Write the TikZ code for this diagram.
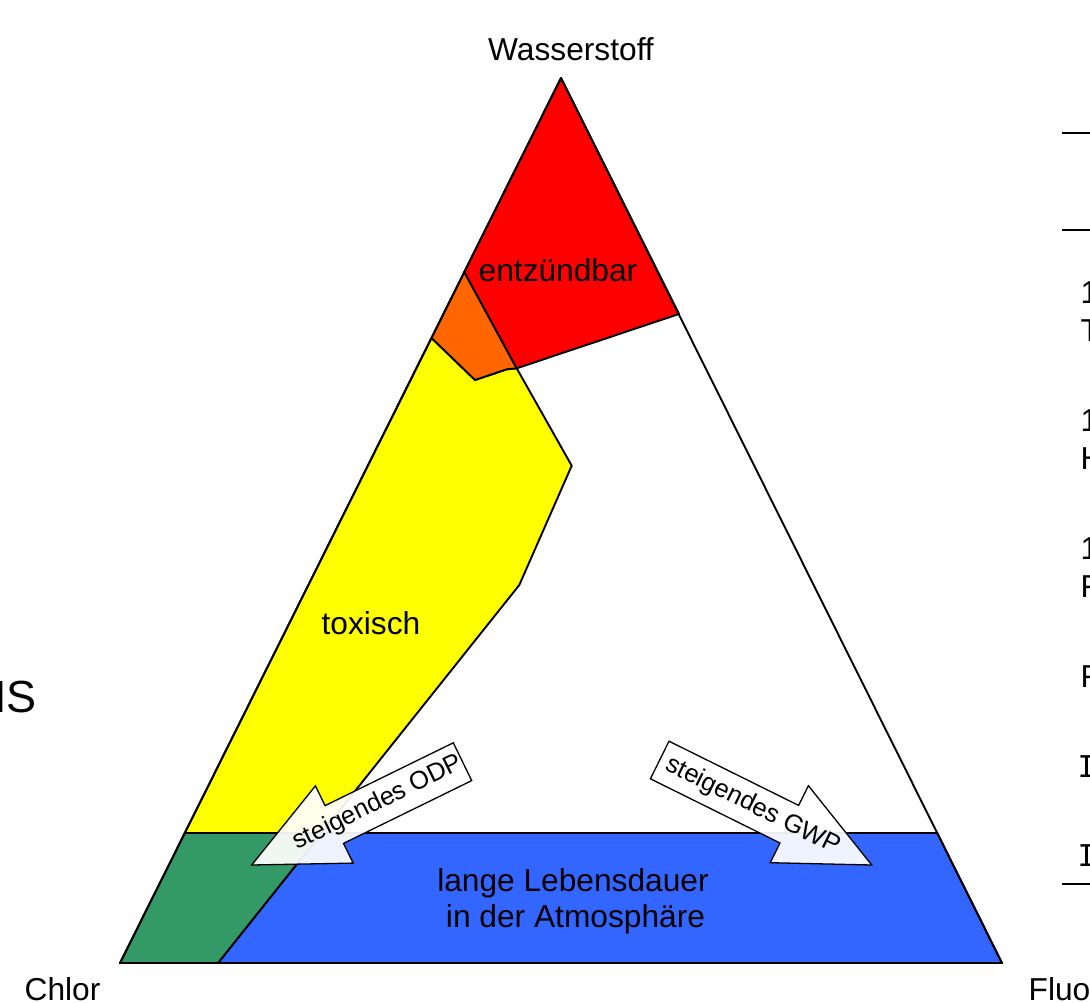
\documentclass[tikz,border=0pt]{standalone}
\usepackage{fontspec}
\setmainfont{Liberation Sans}
\newfontfamily\serifpart{DejaVu Sans Mono}
\definecolor{flamered}{HTML}{FF0000}
\definecolor{mixorange}{HTML}{FF6600}
\definecolor{toxyellow}{HTML}{FFFF00}
\definecolor{mixgreen}{HTML}{339966}
\definecolor{lifeblue}{HTML}{3366FF}
\begin{document}
\begin{tikzpicture}[x=1pt,y=-1pt,
  region/.style={draw=black, line width=1.9pt, line join=round},
  bigarrow/.style={draw=black, line width=1.3pt, fill=white, fill opacity=0.92, line join=miter},
  lbl/.style={font=\fontsize{31.7}{36}\selectfont, inner sep=0pt, anchor=base},
  arrowtext/.style={font=\fontsize{25.5}{30}\selectfont, inner sep=0pt},
  frag/.style={font=\fontsize{31.7}{36}\selectfont, inner sep=0pt, anchor=base west},
  rule/.style={draw=black, line width=1.9pt}]
\useasboundingbox (0,0) rectangle (1090,1003);
\clip (0,0) rectangle (1090,1003);
% corners of the triangle
\coordinate (H) at (561,78);
\coordinate (Cl) at (120,963);
\coordinate (Fl) at (1002,963);
% region points
\coordinate (ro) at (464.3,272);
\coordinate (oy) at (431.5,338);
\coordinate (ob) at (475,380);
\coordinate (ok) at (506.7,369.3);
\coordinate (rm) at (516.7,368.3);
\coordinate (rr) at (679,314);
\coordinate (yr) at (571.7,465.7);
\coordinate (yb) at (519.3,585);
\coordinate (gl) at (184.8,833);
\coordinate (gt) at (321.6,833);
\coordinate (gb) at (218,963);
\coordinate (br) at (937.2,833);
% regions
\path[region, fill=lifeblue] (gt) -- (br) -- (Fl) -- (gb) -- cycle;
\path[region, fill=mixgreen] (Cl) -- (gl) -- (gt) -- (gb) -- cycle;
\path[region, fill=toxyellow] (oy) -- (gl) -- (gt) -- (yb) -- (yr) -- (rm) -- (ok) -- (ob) -- cycle;
\path[region, fill=mixorange] (ro) -- (oy) -- (ob) -- (ok) -- (rm) -- cycle;
\path[region, fill=flamered] (H) -- (ro) -- (rm) -- (rr) -- cycle;
\draw[region] (H) -- (Cl) -- (Fl) -- cycle;
% arrows
\coordinate (o1) at (453.3,742.8);
\coordinate (o2) at (325.1,805.6);
\coordinate (o3) at (315.4,785.9);
\coordinate (otip) at (251.7,865);
\coordinate (o4) at (353.2,863.1);
\coordinate (o5) at (343.5,843.4);
\coordinate (o6) at (471.7,780.6);
\path[bigarrow] (o1) -- (o2) -- (o3) -- (otip) -- (o4) -- (o5) -- (o6) -- cycle;
\coordinate (g1) at (669.0,741.2);
\coordinate (g2) at (798.6,805.4);
\coordinate (g3) at (808.4,785.7);
\coordinate (gtip) at (871.7,865);
\coordinate (g4) at (770.2,862.7);
\coordinate (g5) at (780.0,843.0);
\coordinate (g6) at (650.4,778.8);
\path[bigarrow] (g1) -- (g2) -- (g3) -- (gtip) -- (g4) -- (g5) -- (g6) -- cycle;
\node[arrowtext, rotate=26.1] (odp) at (378,803) {steigendes ODP};
\node[arrowtext, rotate=-26.3] (gwp) at (753,806) {steigendes GWP};
% labels
\node[lbl] (wasser) at (571,60.5) {Wasserstoff};
\node[lbl] (entz) at (558,281) {entzündbar};
\node[lbl] (tox) at (371,634) {toxisch};
\node[lbl] (lange1) at (573,891) {lange Lebensdauer};
\node[lbl] (lange2) at (575.5,927) {in der Atmosphäre};
\node[lbl] (chlor) at (62.5,1000) {Chlor};
\node[frag] (fluor) at (1028.5,1000) {Fluor};
% cut-off fragments at the borders
\node[font=\fontsize{45}{50}\selectfont, inner sep=0pt, anchor=base east] (leftfrag) at (37,712) {IS};
\draw[rule] (1062,133) -- (1090,133);
\draw[rule] (1062,230) -- (1090,230);
\draw[rule] (1062,884) -- (1090,884);
\node[frag] (f1) at (1080.5,303) {1};
\node[frag] (f2) at (1080.5,341) {T};
\node[frag] (f3) at (1080.5,431) {1};
\node[frag] (f4) at (1080.5,469) {H};
\node[frag] (f5) at (1080.5,559) {1};
\node[frag] (f6) at (1080.5,597) {F};
\node[frag] (f7) at (1080.5,687) {F};
\node[frag, font=\serifpart\fontsize{30}{36}\selectfont] (f8) at (1077.5,777) {I};
\node[frag, font=\serifpart\fontsize{30}{36}\selectfont] (f9) at (1077.5,866) {I};
\end{tikzpicture}
\end{document}
